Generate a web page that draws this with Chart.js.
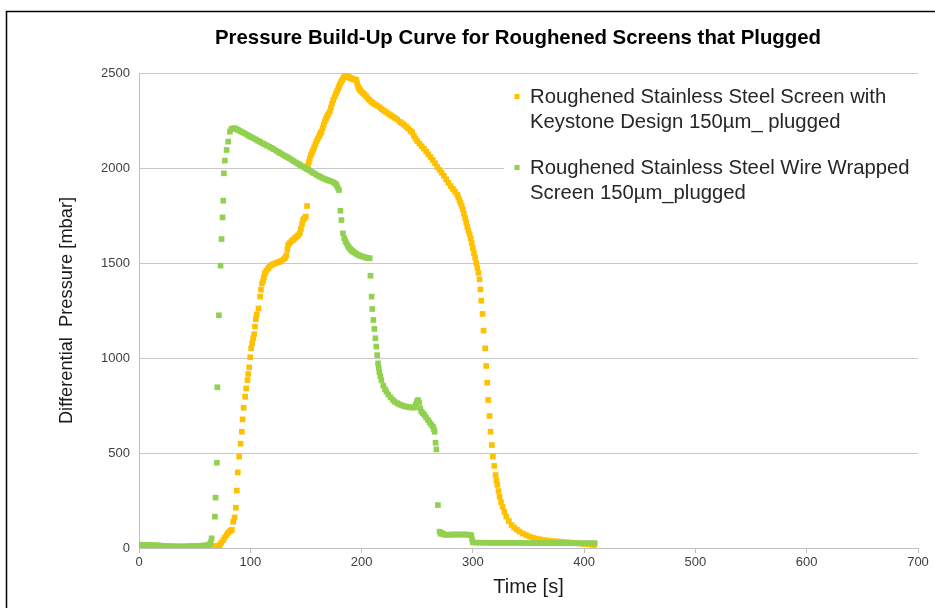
<!DOCTYPE html>
<html><head><meta charset="utf-8">
<script src="https://cdn.jsdelivr.net/npm/chart.js@4.4.1/dist/chart.umd.min.js"></script>
<style>html,body{margin:0;padding:0;background:#fff}#wrap{position:relative;width:935px;height:608px}</style>
</head><body><div id="wrap"><canvas id="c"></canvas></div>
<script>
const chartTitle = 'Pressure Build-Up Curve for Roughened Screens that Plugged';
const xAxisTitle = 'Time [s]';
const yAxisTitle = 'Differential  Pressure [mbar]';
const xTickValues = [0, 100, 200, 300, 400, 500, 600, 700];
const yTickValues = [0, 500, 1000, 1500, 2000, 2500];
const keystoneLabel = ['Roughened Stainless Steel Screen with', 'Keystone Design 150\u00b5m_ plugged'];
const wireLabel = ['Roughened Stainless Steel Wire Wrapped', 'Screen 150\u00b5m_plugged'];

const keystoneTime = [0,2,4,6,8,10,12,14,16,18,20,22,24,26,28,30,32,34,36,38,40,42,44,46,48,50,52,54,56,58,60,62,64,66,68,70,72,72.7,74,75.7,77,78.7,80,81.5,82.5,83.5,84.6,85.9,87,87.9,88.8,90,91.3,92.4,93.1,94,95.4,96.3,97.5,98.1,99,99.9,100.8,101.7,102.6,103.5,104.2,105,105.8,107.4,108.9,109.6,110.5,111.5,112.3,113.1,114.5,116,117.5,119.1,121,123,125,126.5,128,130,131.5,132.5,133.3,134,135.5,137,138.5,140,141.5,143,144.5,145.5,146.5,147.4,148.5,149.9,151,
151.8,152.6,153.5,154.5,155.5,156.4,157.5,158.5,159.5,160.5,161.5,162.5,163.3,164,165,166,167,168,169,170,171.4,172.5,173.5,174.5,175.9,177,178,179,179.7,180.5,181.5,182.5,183.5,184.5,185.5,186.4,187.5,188.5,189.5,190.5,191.5,192.5,193.5,194.5,195.4,196,196.8,197.7,198.8,199.8,201,202.5,204,205.5,207,208.5,210,212,214,216.3,218,220,222,224,226,228,230,232,234.2,236,238,240,242,244,245.5,247,248.5,250,252,254,256,258,260,262,264,266,268,270,272,274,276,278,280,282,284,286,287,288,289,290,291,292,293,294,295,296,297,298,299,300,301,302,303,304,305,306,306.8,307.6,308.7,309.6,311.1,312,312.9,313.8,315,315.9,317.1,318,319.2,320.4,321.2,322,323,324,325.3,326.7,328.3,330,332.3,334.7,337,339.5,342,345,348,351,354,357,360,364,368,372,376,380,384,388,392,396,400,404,407,409];
const keystonePressure = [10,11,10,9,10,9,9,8,7,5,3,2,0,-2,-2,0,2,4,5,6,6,7,7,7,8,8,8,7,8,8,8,8,8,9,9,10,14,16,28,42,55,68,80,88,92,95,138,161,212,302,398,481,549,612,677,738,796,840,884,916,951,1004,1051,1077,1104,1126,1165,1204,1230,1261,1323,1360,1392,1405,1425,1446,1460,1472,1482,1489,1495,1500,1504,1507,1512,1520,1528,1540,1570,1595,1605,1615,1622,1630,1638,1646,1656,1680,1705,1726,1735,1744,1800,
2012,2032,2050,2068,2082,2095,2110,2125,2140,2152,2163,2175,2185,2191,2210,2228,2245,2260,2272,2284,2296,2318,2340,2358,2375,2392,2405,2418,2428,2440,2452,2462,2472,2480,2486,2489,2486,2478,2474,2472,2470,2468,2466,2465,2463,2445,2428,2418,2410,2402,2395,2388,2378,2368,2358,2350,2343,2335,2328,2320,2310,2302,2294,2286,2278,2271,2264,2255,2244,2236,2228,2218,2207,2195,2188,2170,2155,2142,2128,2115,2102,2087,2072,2058,2042,2025,2005,1990,1975,1958,1940,1922,1905,1890,1875,1860,1845,1830,1815,1800,1782,1760,1738,1714,1690,1670,1652,1630,1605,1578,1552,1528,1500,1475,1448,1414,1361,1302,1232,1144,1051,958,870,779,695,612,542,481,432,384,355,332,300,270,242,217,190,165,142,121,108,97,86,76,67,60,54,50,46,42,39,37,35,33,31,29,27,24,21,19,17,16];

const wireTime = [0,2,4,6,8,10,12,14,16,18,20,22,24,26,28,30,32,34,36,38,40,42,44,46,48,50,52,54,56,58,60,62,63.5,64.5,65.2,68.2,68.8,70,70.4,71.8,73.3,74.2,75.1,75.7,76.3,77.2,78.7,80.2,81.7,83,84.6,86,87.5,89,91,93,95,97,99,101,103,105,107,109,111,113,115,117,119,121,123,125,127,129,131,133,135,137,139,141,143,145,147,149,151,153,155,157,159,161,163,165,167,169,171,173,175,176.5,177.4,178.5,179.7,181,181.9,183.3,184.5,185.5,186.4,187.5,188.5,189.5,190.5,191.5,192.3,193.5,195,196.5,198,199.5,201.3,203,204.5,206,207.3,208,209,209.6,210.6,211.5,212.4,213.2,214,214.8,215.4,216,216.9,217.8,219.5,221,222.3,224,226,228,229.7,232,234,236,238,240.2,242,244,246,247.7,248.7,249.7,250.7,251.7,252.7,253.7,255,256.5,258,259.6,261,262.5,264.1,265,265.6,266.5,267.2,268.6,270.1,271,272,273,274.5,276,278,280,282,284,286,288,290,292,294,296,297.5,298.6,299.3,300,303,306,309,312,315,318,321,324,327,330,333,336,339,342,345,348,351,354,357,360,363,366,369,372,375,378,381,384,387,390,393,396,399,402,405,408,409.5];
const wirePressure = [17,17,16,16,16,15,15,14,14,13,12,11,10,10,9,9,9,8,8,8,8,8,9,9,9,10,10,11,12,13,14,16,20,30,51,165,265,449,846,1225,1486,1626,1740,1828,1972,2039,2095,2139,2191,2205,2209,2209,2205,2200,2194,2188,2182,2175,2168,2162,2156,2150,2143,2137,2130,2124,2118,2112,2106,2099,2092,2085,2078,2071,2064,2058,2051,2044,2036,2029,2022,2015,2008,2001,1994,1987,1980,1973,1966,1959,1953,1947,1942,1937,1933,1929,1924,1917,1911,1898,1884,1775,1726,1656,1630,1615,1604,1592,1583,1576,1569,1564,1560,1555,1549,1544,1540,1536,1533,1530,1528,1526,1525,1433,1323,1258,1200,1153,1104,1060,1015,972,948,925,904,884,855,836,823,808,793,780,770,762,756,751,747,744,742,740,739,740,755,770,779,765,735,718,710,700,687,674,662,650,639,625,612,554,519,226,86,75,80,74,70,70,70,70,71,71,71,71,71,71,71,70,69,66,45,30,28,28,28,28,27,27,27,27,27,27,27,27,27,27,27,26,26,26,26,26,26,26,26,26,26,26,26,26,26,26,25,25,25,25,25,25,25];

const keystoneColor = '#FFC000';
const wireColor = '#92D050';
const FONT = '"Liberation Sans", Arial, Helvetica, sans-serif';

function toPoints(ts, ps) { return ts.map((t, i) => ({ x: t, y: ps[i] })); }

const decorPlugin = {
  id: 'decor',
  beforeDraw(chart) {
    const ctx = chart.ctx;
    ctx.save();
    ctx.fillStyle = '#fff';
    ctx.fillRect(0, 0, chart.width, chart.height);
    ctx.strokeStyle = '#000';
    ctx.lineWidth = 1.5;
    ctx.beginPath();
    ctx.moveTo(6.5, chart.height);
    ctx.lineTo(6.5, 11.5);
    ctx.lineTo(chart.width, 11.5);
    ctx.stroke();
    ctx.restore();
  },
  afterDraw(chart) {
    const ctx = chart.ctx;
    ctx.save();
    ctx.fillStyle = '#000';
    ctx.font = 'bold 20.4px ' + FONT;
    ctx.textAlign = 'center';
    ctx.textBaseline = 'middle';
    ctx.fillText(chartTitle, 518, 38);
    ctx.fillStyle = '#fff';
    ctx.fillRect(504, 80, 431, 125);
    const entries = [[keystoneColor, keystoneLabel, 97], [wireColor, wireLabel, 168]];
    ctx.font = '20.3px ' + FONT;
    ctx.textAlign = 'left';
    entries.forEach(([col, lines, y]) => {
      ctx.fillStyle = col;
      ctx.fillRect(514.5, y - 3, 5, 5);
      ctx.fillStyle = '#262626';
      lines.forEach((ln, k) => ctx.fillText(ln, 530, y + k * 25));
    });
    ctx.restore();
  }
};

new Chart(document.getElementById('c'), {
  type: 'scatter',
  data: {
    datasets: [
      { label: wireLabel.join(' '), data: toPoints(wireTime, wirePressure), backgroundColor: wireColor, borderColor: wireColor, pointStyle: 'rect', pointRadius: 4, borderWidth: 0, showLine: false },
      { label: keystoneLabel.join(' '), data: toPoints(keystoneTime, keystonePressure), backgroundColor: keystoneColor, borderColor: keystoneColor, pointStyle: 'rect', pointRadius: 4, borderWidth: 0, showLine: false }
    ]
  },
  options: {
    responsive: true,
    maintainAspectRatio: false,
    animation: false,
    events: [],
    layout: { padding: { top: 73, right: 17, bottom: 0, left: 0 } },
    plugins: { legend: { display: false }, title: { display: false }, tooltip: { enabled: false } },
    scales: {
      x: {
        type: 'linear', min: 0, max: 700,
        afterBuildTicks: s => { s.ticks = xTickValues.map(v => ({ value: v })); },
        afterFit: s => { s.height = 60; },
        grid: { drawOnChartArea: false, drawTicks: true, tickLength: 5, color: '#bfbfbf' },
        border: { display: true, color: '#bfbfbf', width: 1 },
        ticks: { color: '#404040', font: { family: FONT, size: 13 }, padding: 2, callback: v => String(v) },
        title: { display: true, text: xAxisTitle, color: '#1a1a1a', font: { family: FONT, size: 20 }, padding: { top: 0, bottom: 9 } }
      },
      y: {
        type: 'linear', min: 0, max: 2500,
        afterBuildTicks: s => { s.ticks = yTickValues.map(v => ({ value: v })); },
        afterFit: s => { s.width = 139; },
        grid: { drawTicks: false, color: '#c8c8c8' },
        border: { display: true, color: '#bfbfbf', width: 1 },
        ticks: { color: '#404040', font: { family: FONT, size: 13 }, padding: 9, callback: v => String(v) },
        title: { display: true, text: yAxisTitle, color: '#1a1a1a', font: { family: FONT, size: 18.3 }, padding: { top: 56, bottom: 0 } }
      }
    }
  },
  plugins: [decorPlugin]
});
</script></body></html>
